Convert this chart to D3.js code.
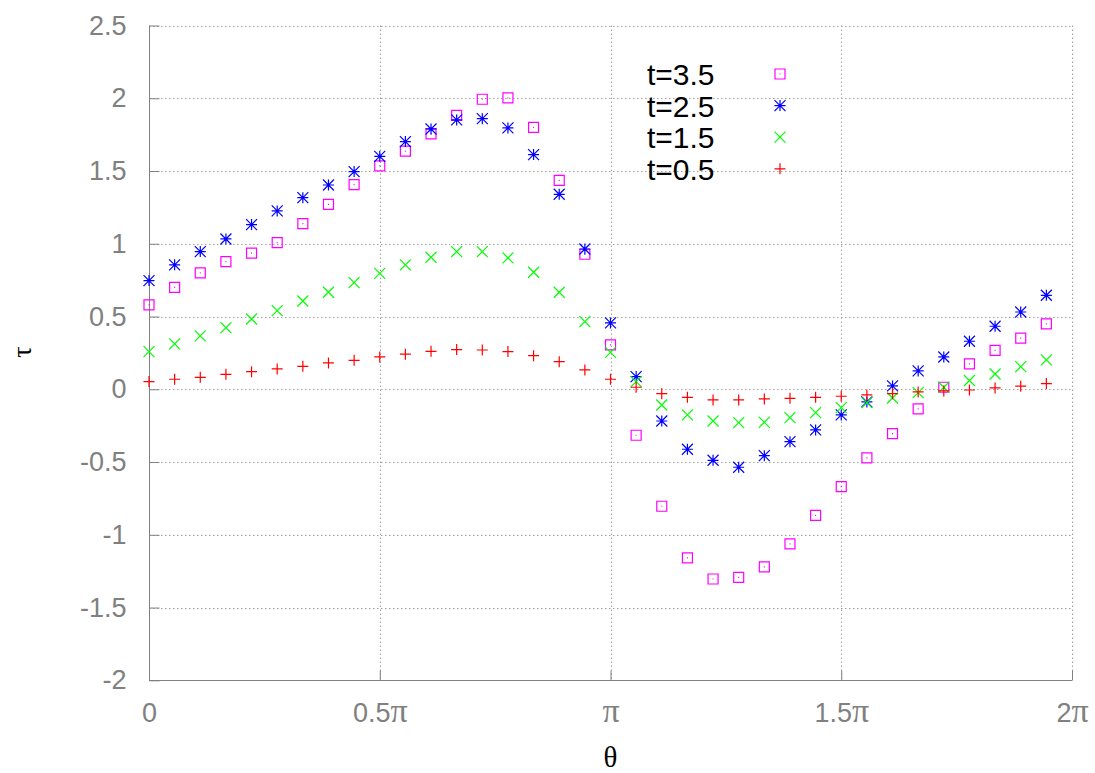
<!DOCTYPE html>
<html><head><meta charset="utf-8">
<script src="https://cdn.jsdelivr.net/npm/d3@7"></script>
<style>body{margin:0;background:#fff}</style>
</head><body>
<svg id="c" width="1095" height="773"></svg>
<script>
const kIndex = d3.range(36); // theta = k*pi/18
const t35 = [0.58,0.70,0.80,0.877,0.935,1.008,1.139,1.271,1.407,1.535,1.636,1.755,1.883,1.993,2.002,1.80,1.436,0.928,0.305,
  -0.316,-0.804,-1.159,-1.304,-1.292,-1.221,-1.063,-0.866,-0.669,-0.472,-0.305,-0.135,0.014,0.174,0.268,0.351,0.449];
const t25 = [0.747,0.855,0.946,1.033,1.132,1.226,1.317,1.404,1.496,1.601,1.702,1.789,1.851,1.860,1.796,1.613,1.340,0.964,0.456,
  0.087,-0.218,-0.412,-0.488,-0.536,-0.456,-0.360,-0.279,-0.176,-0.087,0.023,0.126,0.222,0.330,0.433,0.531,0.646];
const t15 = [0.259,0.312,0.367,0.424,0.483,0.541,0.607,0.667,0.733,0.797,0.855,0.907,0.946,0.946,0.903,0.804,0.667,0.465,0.254,
  0.053,-0.108,-0.176,-0.218,-0.229,-0.227,-0.195,-0.160,-0.126,-0.092,-0.060,-0.023,0.014,0.060,0.105,0.156,0.202];
const t05 = [0.053,0.069,0.082,0.103,0.121,0.140,0.158,0.181,0.199,0.222,0.241,0.261,0.273,0.270,0.259,0.231,0.190,0.133,0.069,
  0.014,-0.030,-0.055,-0.073,-0.073,-0.066,-0.062,-0.055,-0.048,-0.039,-0.030,-0.018,-0.011,-0.005,0.009,0.021,0.039];
const seriesNames = ["t=3.5","t=2.5","t=1.5","t=0.5"];
const seriesColors = ["#ff00ff","#0000ff","#00ff00","#ff0000"];
const seriesMarkers = ["square","star","cross","plus"];
const seriesValues = [t35,t25,t15,t05];
const yTicks = [-2,-1.5,-1,-0.5,0,0.5,1,1.5,2,2.5];
const xTickVals = [0,0.5,1,1.5,2]; // multiples of pi
const xTickLabels = ["0","0.5","","1.5","2"];

const svg = d3.select("#c");
const L=149, R=1072, T=25.5, B=680.3;
const x = d3.scaleLinear().domain([0,2*Math.PI]).range([L,R]);
const y = d3.scaleLinear().domain([-2,2.5]).range([B,T]);

// grid
const grid = svg.append("g").attr("stroke","#a0a0a0").attr("stroke-width",1).attr("stroke-dasharray","1.5,2.5").attr("fill","none");
yTicks.filter(v=>v>-2).forEach(v=>{
  grid.append("line").attr("x1",L).attr("x2",R).attr("y1",Math.round(y(v))+0.5).attr("y2",Math.round(y(v))+0.5);
});
xTickVals.filter(v=>v>0).forEach(v=>{
  grid.append("line").attr("y1",T).attr("y2",B).attr("x1",Math.round(x(v*Math.PI))+0.5).attr("x2",Math.round(x(v*Math.PI))+0.5);
});

// axes (left, bottom) using d3 axes
const yAxis = d3.axisLeft(y).tickValues(yTicks).tickSize(-10).tickPadding(23).tickFormat(d=>String(d));
const gy = svg.append("g").attr("transform",`translate(${L+0.5},0)`).call(yAxis);
gy.select(".domain").attr("stroke","#808080").attr("d",`M0,${T}V${B}`);
gy.selectAll(".tick line").attr("stroke","#808080");
gy.selectAll(".tick text").attr("fill","#808080").attr("font-family","Liberation Sans, Arial, sans-serif").attr("font-size",27);

const xAxis = d3.axisBottom(x).tickValues(xTickVals.map(v=>v*Math.PI)).tickSize(-10).tickPadding(22).tickFormat(()=>"");
const gx = svg.append("g").attr("transform",`translate(0,${Math.round(B)+0.5})`).call(xAxis);
gx.select(".domain").attr("stroke","#808080").attr("d",`M${L},0H${R}`);
gx.selectAll(".tick line").attr("stroke","#808080");
gx.selectAll(".tick text").each(function(d,i){
  const t = d3.select(this).attr("fill","#808080").attr("font-family","Liberation Sans, Arial, sans-serif").attr("font-size",27).attr("dy","0.71em");
  t.append("tspan").text(xTickLabels[i]);
  if (i>0) t.append("tspan").attr("font-family","Liberation Serif, Times New Roman, serif").attr("font-size",34).text("π");
});

// axis titles
svg.append("text").attr("x",x(Math.PI)).attr("y",767).attr("text-anchor","middle")
  .attr("font-family","Liberation Serif, Times New Roman, serif").attr("font-size",29).attr("fill","#000").text("θ");
svg.append("text").attr("transform","translate(31,352) rotate(-90)").attr("text-anchor","middle")
  .attr("font-family","Liberation Serif, Times New Roman, serif").attr("font-size",28).attr("fill","#000").text("τ");

// markers
function markerPath(type){
  const s=5.5;
  if(type==="square") return `M${-5},${-5}h10v10h-10z M-0.5,0h1`;
  if(type==="plus") return `M${-s},0H${s}M0,${-s}V${s}`;
  if(type==="cross") return `M${-s},${-s}L${s},${s}M${-s},${s}L${s},${-s}`;
  if(type==="star") return `M${-s},0H${s}M0,${-s}V${s}M${-s},${-s}L${s},${s}M${-s},${s}L${s},${-s}`;
}
seriesValues.forEach((vals,si)=>{
  const g = svg.append("g").attr("fill","none").attr("stroke",seriesColors[si]).attr("stroke-width",1.2);
  g.selectAll("path").data(vals).enter().append("path")
    .attr("transform",(d,k)=>`translate(${x(kIndex[k]*Math.PI/18)},${y(d)})`)
    .attr("d",markerPath(seriesMarkers[si]));
});

// legend
const leg = svg.append("g");
seriesNames.forEach((n,i)=>{
  const cy = 74 + i*31.6;
  leg.append("text").attr("x",647).attr("y",cy+11).attr("font-family","Liberation Sans, Arial, sans-serif")
    .attr("font-size",30).attr("fill","#000").text(n);
  leg.append("path").attr("transform",`translate(780,${cy})`).attr("d",markerPath(seriesMarkers[i]))
    .attr("fill","none").attr("stroke",seriesColors[i]).attr("stroke-width",1.2);
});
</script>
</body></html>
